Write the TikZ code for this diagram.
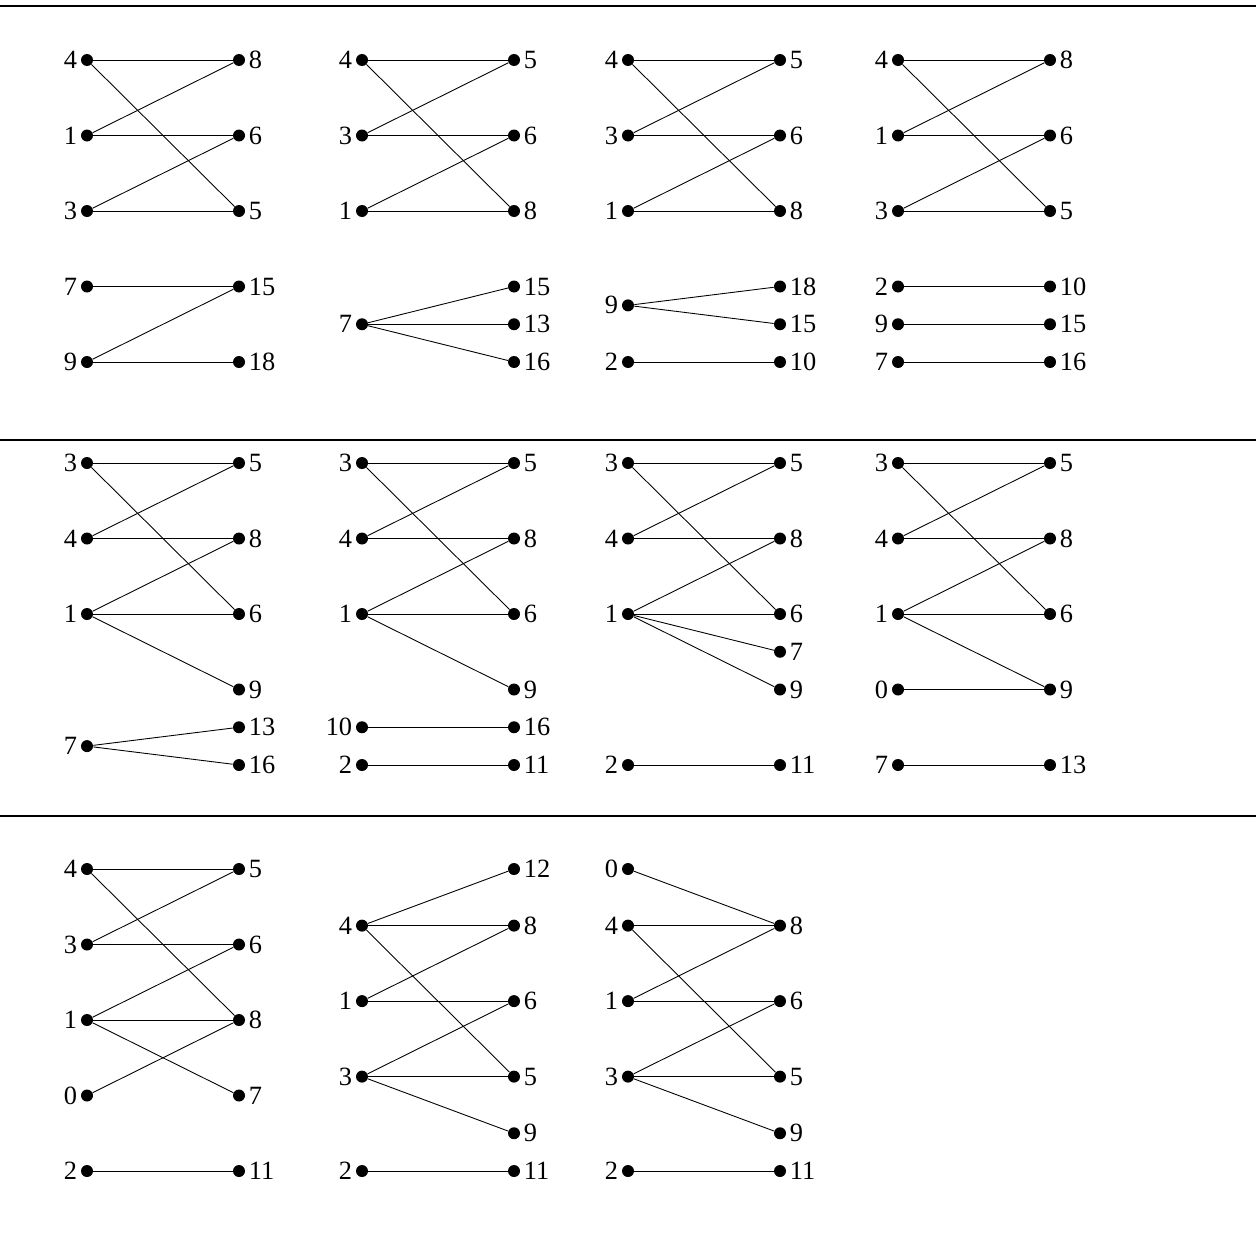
\documentclass[tikz,border=0pt]{standalone}
\usepackage{fontspec}
\setmainfont{Liberation Serif}
\usepackage{tikz}

\tikzset{
  vtx/.style={circle, fill=black, inner sep=0pt, minimum size=0.24cm},
  edg/.style={line width=0.5pt},
  sep/.style={line width=0.7pt},
  every label/.style={font=\fontsize{15}{18}\selectfont, inner sep=1.8pt}
}

\begin{document}
\begin{tikzpicture}
\useasboundingbox (0,0) rectangle (25.12,-25.14);

% Separators
\coordinate (s1a) at (0,-0.12);    \coordinate (s1b) at (25.12,-0.12);
\coordinate (s2a) at (0,-8.8);     \coordinate (s2b) at (25.12,-8.8);
\coordinate (s3a) at (0,-16.32);   \coordinate (s3b) at (25.12,-16.32);
\draw[sep] (s1a) -- (s1b);
\draw[sep] (s2a) -- (s2b);
\draw[sep] (s3a) -- (s3b);

%% Row 1
\begin{scope}[shift={(1.74,-1.2)}, y=-1.51cm]
\foreach \n/\y in {4/0,1/1,3/2,7/3,9/4} \node[vtx, label=left:\n] (aL\n) at (0,\y) {};
\foreach \n/\y in {8/0,6/1,5/2,15/3,18/4} \node[vtx, label=right:\n] (aR\n) at (3.04,\y) {};
\foreach \u/\v in {4/8,4/5,1/8,1/6,3/6,3/5,7/15,9/15,9/18} \draw[edg] (aL\u) -- (aR\v);
\end{scope}

\begin{scope}[shift={(7.24,-1.2)}, y=-1.51cm]
\foreach \n/\y in {4/0,3/1,1/2,7/3.5} \node[vtx, label=left:\n] (bL\n) at (0,\y) {};
\foreach \n/\y in {5/0,6/1,8/2,15/3,13/3.5,16/4} \node[vtx, label=right:\n] (bR\n) at (3.04,\y) {};
\foreach \u/\v in {4/5,4/8,3/5,3/6,1/6,1/8,7/15,7/13,7/16} \draw[edg] (bL\u) -- (bR\v);
\end{scope}

\begin{scope}[shift={(12.56,-1.2)}, y=-1.51cm]
\foreach \n/\y in {4/0,3/1,1/2,9/3.25,2/4} \node[vtx, label=left:\n] (cL\n) at (0,\y) {};
\foreach \n/\y in {5/0,6/1,8/2,18/3,15/3.5,10/4} \node[vtx, label=right:\n] (cR\n) at (3.04,\y) {};
\foreach \u/\v in {4/5,4/8,3/5,3/6,1/6,1/8,9/18,9/15,2/10} \draw[edg] (cL\u) -- (cR\v);
\end{scope}

\begin{scope}[shift={(17.96,-1.2)}, y=-1.51cm]
\foreach \n/\y in {4/0,1/1,3/2,2/3,9/3.5,7/4} \node[vtx, label=left:\n] (dL\n) at (0,\y) {};
\foreach \n/\y in {8/0,6/1,5/2,10/3,15/3.5,16/4} \node[vtx, label=right:\n] (dR\n) at (3.04,\y) {};
\foreach \u/\v in {4/8,4/5,1/8,1/6,3/6,3/5,2/10,9/15,7/16} \draw[edg] (dL\u) -- (dR\v);
\end{scope}

%% Row 2
\begin{scope}[shift={(1.74,-9.26)}, y=-1.51cm]
\foreach \n/\y in {3/0,4/1,1/2,7/3.75} \node[vtx, label=left:\n] (eL\n) at (0,\y) {};
\foreach \n/\y in {5/0,8/1,6/2,9/3,13/3.5,16/4} \node[vtx, label=right:\n] (eR\n) at (3.04,\y) {};
\foreach \u/\v in {3/5,3/6,4/5,4/8,1/8,1/6,1/9,7/13,7/16} \draw[edg] (eL\u) -- (eR\v);
\end{scope}

\begin{scope}[shift={(7.24,-9.26)}, y=-1.51cm]
\foreach \n/\y in {3/0,4/1,1/2,10/3.5,2/4} \node[vtx, label=left:\n] (fL\n) at (0,\y) {};
\foreach \n/\y in {5/0,8/1,6/2,9/3,16/3.5,11/4} \node[vtx, label=right:\n] (fR\n) at (3.04,\y) {};
\foreach \u/\v in {3/5,3/6,4/5,4/8,1/8,1/6,1/9,10/16,2/11} \draw[edg] (fL\u) -- (fR\v);
\end{scope}

\begin{scope}[shift={(12.56,-9.26)}, y=-1.51cm]
\foreach \n/\y in {3/0,4/1,1/2,2/4} \node[vtx, label=left:\n] (gL\n) at (0,\y) {};
\foreach \n/\y in {5/0,8/1,6/2,7/2.5,9/3,11/4} \node[vtx, label=right:\n] (gR\n) at (3.04,\y) {};
\foreach \u/\v in {3/5,3/6,4/5,4/8,1/8,1/6,1/7,1/9,2/11} \draw[edg] (gL\u) -- (gR\v);
\end{scope}

\begin{scope}[shift={(17.96,-9.26)}, y=-1.51cm]
\foreach \n/\y in {3/0,4/1,1/2,0/3,7/4} \node[vtx, label=left:\n] (hL\n) at (0,\y) {};
\foreach \n/\y in {5/0,8/1,6/2,9/3,13/4} \node[vtx, label=right:\n] (hR\n) at (3.04,\y) {};
\foreach \u/\v in {3/5,3/6,4/5,4/8,1/8,1/6,1/9,0/9,7/13} \draw[edg] (hL\u) -- (hR\v);
\end{scope}

%% Row 3
\begin{scope}[shift={(1.74,-17.38)}, y=-1.51cm]
\foreach \n/\y in {4/0,3/1,1/2,0/3,2/4} \node[vtx, label=left:\n] (iL\n) at (0,\y) {};
\foreach \n/\y in {5/0,6/1,8/2,7/3,11/4} \node[vtx, label=right:\n] (iR\n) at (3.04,\y) {};
\foreach \u/\v in {4/5,4/8,3/5,3/6,1/6,1/8,1/7,0/8,2/11} \draw[edg] (iL\u) -- (iR\v);
\end{scope}

\begin{scope}[shift={(7.24,-17.38)}, y=-1.51cm]
\foreach \n/\y in {4/0.75,1/1.75,3/2.75,2/4} \node[vtx, label=left:\n] (jL\n) at (0,\y) {};
\foreach \n/\y in {12/0,8/0.75,6/1.75,5/2.75,9/3.5,11/4} \node[vtx, label=right:\n] (jR\n) at (3.04,\y) {};
\foreach \u/\v in {4/12,4/8,4/5,1/8,1/6,3/6,3/5,3/9,2/11} \draw[edg] (jL\u) -- (jR\v);
\end{scope}

\begin{scope}[shift={(12.56,-17.38)}, y=-1.51cm]
\foreach \n/\y in {0/0,4/0.75,1/1.75,3/2.75,2/4} \node[vtx, label=left:\n] (kL\n) at (0,\y) {};
\foreach \n/\y in {8/0.75,6/1.75,5/2.75,9/3.5,11/4} \node[vtx, label=right:\n] (kR\n) at (3.04,\y) {};
\foreach \u/\v in {0/8,4/8,4/5,1/8,1/6,3/6,3/5,3/9,2/11} \draw[edg] (kL\u) -- (kR\v);
\end{scope}

\end{tikzpicture}
\end{document}
